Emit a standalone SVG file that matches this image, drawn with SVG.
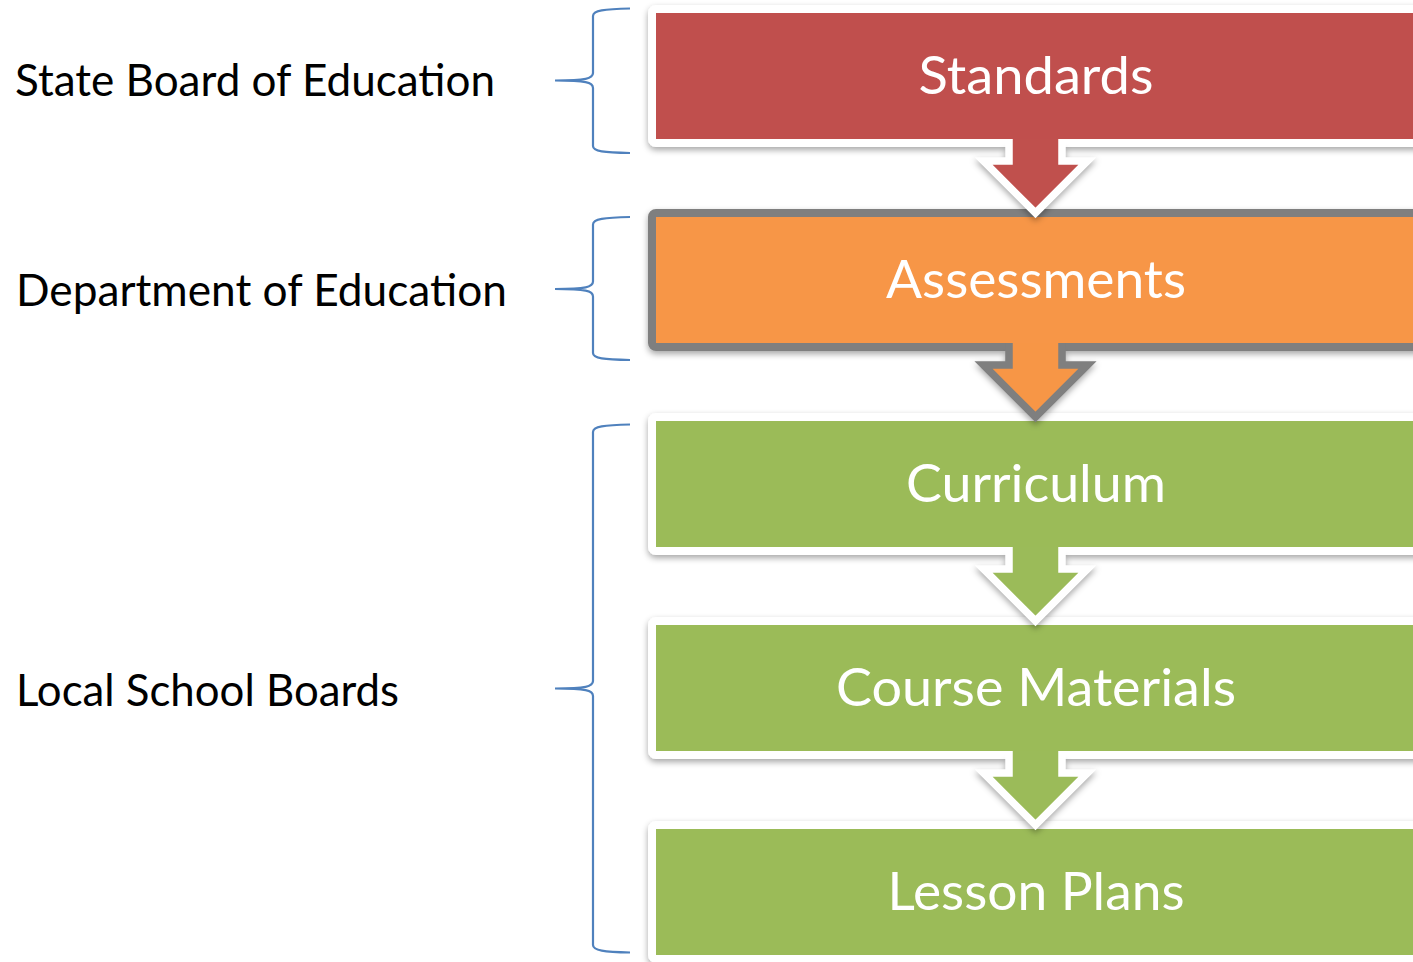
<svg xmlns="http://www.w3.org/2000/svg" width="1413" height="962" viewBox="0 0 1413 962">
  <defs>
    <filter id="sh" x="-10%" y="-20%" width="120%" height="150%">
      <feDropShadow dx="0" dy="3" stdDeviation="3" flood-color="#000" flood-opacity="0.35"/>
    </filter>
    <filter id="blur" x="-20%" y="-20%" width="140%" height="150%">
      <feGaussianBlur stdDeviation="3"/>
    </filter>
    <style>
      .box { stroke-width: 8; filter: url(#sh); }
      .white { stroke: #ffffff; }
      .gray { stroke: #7f7f7f; }
      .red { fill: #c0504d; }
      .orange { fill: #f79646; }
      .green { fill: #9bbb59; }
      .arrow { stroke-width: 7.5; stroke-linejoin: miter; stroke-miterlimit: 6; }
      .ashadow { fill: none; stroke: #000000; stroke-opacity: 0.35; stroke-width: 7.5; stroke-linejoin: miter; stroke-miterlimit: 6; filter: url(#blur); }
      .btxt { font-family: "Lato", "Open Sans", "Liberation Sans", sans-serif; font-size: 53px; fill: #ffffff; text-anchor: middle; }
      .ltxt { font-family: "Lato", "Open Sans", "Liberation Sans", sans-serif; font-size: 45px; fill: #000000; }
      .brace { fill: none; stroke: #4f81bd; stroke-width: 2.2; }
    </style>
    <path id="arrowShape" d="M1009,0 L1009,22 L983.5,22 L1035.5,74 L1087.5,22 L1062,22 L1062,0"/>
    <path id="arrowShadow" d="M1009,8 L1009,22 L983.5,22 L1035.5,74 L1087.5,22 L1062,22 L1062,8"/>
  </defs>
  <rect width="1413" height="962" fill="#ffffff"/>

  <g id="label-state">
    <path class="brace" d="M630,8.5 C604,9 593,10.5 593,16 L593,73 C593,78.5 586,80.5 555,80.5 C586,80.5 593,82.5 593,88 L593,146 C593,151.5 604,152.5 630,153"/>
    <text class="ltxt" x="15" y="96" textLength="480" lengthAdjust="spacingAndGlyphs">State Board of Education</text>
  </g>
  <g id="label-department">
    <path class="brace" d="M630,217 C604,217.5 593,219 593,224.5 L593,281.5 C593,287 586,289 555,289 C586,289 593,291 593,296.5 L593,353 C593,358.5 604,359.5 630,360"/>
    <text class="ltxt" x="16" y="306" textLength="491" lengthAdjust="spacingAndGlyphs">Department of Education</text>
  </g>
  <g id="label-local">
    <path class="brace" d="M630,424.5 C604,425 593,426.5 593,432 L593,681 C593,686.5 586,688.5 555,688.5 C586,688.5 593,690.5 593,696 L593,945 C593,950.5 604,952 630,952.5"/>
    <text class="ltxt" x="16" y="706" textLength="383" lengthAdjust="spacingAndGlyphs">Local School Boards</text>
  </g>

  <g id="node-standards">
    <rect class="box white red" x="652" y="9" width="800" height="134" rx="4"/>
    <text class="btxt" x="1036" y="94" textLength="235" lengthAdjust="spacingAndGlyphs">Standards</text>
  </g>
  <g id="node-assessments">
    <rect class="box gray orange" x="652" y="213" width="800" height="134" rx="4"/>
    <text class="btxt" x="1036" y="298" textLength="300" lengthAdjust="spacingAndGlyphs">Assessments</text>
  </g>
  <g id="node-curriculum">
    <rect class="box white green" x="652" y="417" width="800" height="134" rx="4"/>
    <text class="btxt" x="1036" y="502" textLength="260" lengthAdjust="spacingAndGlyphs">Curriculum</text>
  </g>
  <g id="node-course-materials">
    <rect class="box white green" x="652" y="621" width="800" height="134" rx="4"/>
    <text class="btxt" x="1036" y="706" textLength="400" lengthAdjust="spacingAndGlyphs">Course Materials</text>
  </g>
  <g id="node-lesson-plans">
    <rect class="box white green" x="652" y="825" width="800" height="134" rx="4"/>
    <text class="btxt" x="1036" y="910" textLength="297" lengthAdjust="spacingAndGlyphs">Lesson Plans</text>
  </g>

  <g id="connectors">
    <use href="#arrowShadow" class="ashadow" x="0" y="142"/>
    <use href="#arrowShape" class="arrow white red" x="0" y="139"/>
    <use href="#arrowShadow" class="ashadow" x="0" y="346"/>
    <use href="#arrowShape" class="arrow gray orange" x="0" y="343"/>
    <use href="#arrowShadow" class="ashadow" x="0" y="550"/>
    <use href="#arrowShape" class="arrow white green" x="0" y="547"/>
    <use href="#arrowShadow" class="ashadow" x="0" y="754"/>
    <use href="#arrowShape" class="arrow white green" x="0" y="751"/>
  </g>
</svg>
